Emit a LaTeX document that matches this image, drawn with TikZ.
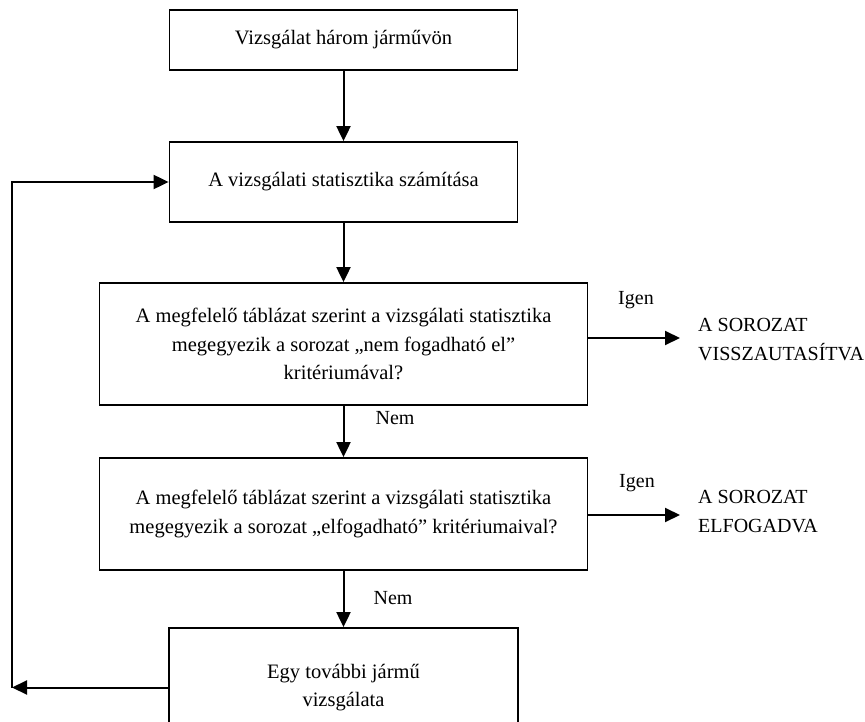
\documentclass[tikz,border=0pt]{standalone}
\usepackage{fontspec}
\setmainfont{Liberation Serif}
\usetikzlibrary{arrows.meta}
\begin{document}
\begin{tikzpicture}[x=1pt,y=-1pt,
  box/.style={draw, line width=1.8pt, inner sep=0pt, align=center, font=\fontsize{20.5}{28.5}\selectfont},
  arr/.style={line width=2pt, -{Triangle[width=14pt,length=15pt]}},
  lbl/.style={inner sep=0pt, font=\fontsize{20}{29}\selectfont, align=left},
  outc/.style={lbl, anchor=west}]
\useasboundingbox (0,0) rectangle (865,722);
\clip (0,0) rectangle (865,722);
\node[box, minimum width=348pt, minimum height=60pt] (b1) at (343.5,40) {Vizsgálat három járművön};
\node[box, minimum width=348pt, minimum height=80pt] (b2) at (343.5,182) {A vizsgálati statisztika számítása};
\node[box, minimum width=488pt, minimum height=122pt] (b3) at (343.5,344) {A megfelelő táblázat szerint a vizsgálati statisztika\\megegyezik a sorozat „nem fogadható el”\\kritériumával?};
\node[box, minimum width=488pt, minimum height=112pt] (b4) at (343.5,514) {A megfelelő táblázat szerint a vizsgálati statisztika\\megegyezik a sorozat „elfogadható” kritériumaival?};
\node[box, minimum width=349pt, minimum height=119pt] (b5) at (343.5,687.5) {Egy további jármű\\vizsgálata};
\node[outc] (o1) at (698,340) {A SOROZAT\\VISSZAUTASÍTVA};
\node[outc] (o2) at (698,512) {A SOROZAT\\ELFOGADVA};
\node[lbl] (i1) at (636,300) {Igen};
\node[lbl] (i2) at (637,483) {Igen};
\node[lbl] (n1) at (395,418) {Nem};
\node[lbl] (n2) at (393,598) {Nem};
\coordinate (lc) at (12,687.5);
\draw[arr] (b1) -- (b2);
\draw[arr] (b2) -- (b3);
\draw[arr] (b3) -- (b4);
\draw[arr] (b4) -- (b5.north);
\draw[arr] (b3.east |- 0,338) -- (680,338);
\draw[arr] (b4.east |- 0,515) -- (680,515);
\draw[arr] (b5.west) -- (lc);
\draw[arr] (lc) |- (b2.west);
\end{tikzpicture}
\end{document}
